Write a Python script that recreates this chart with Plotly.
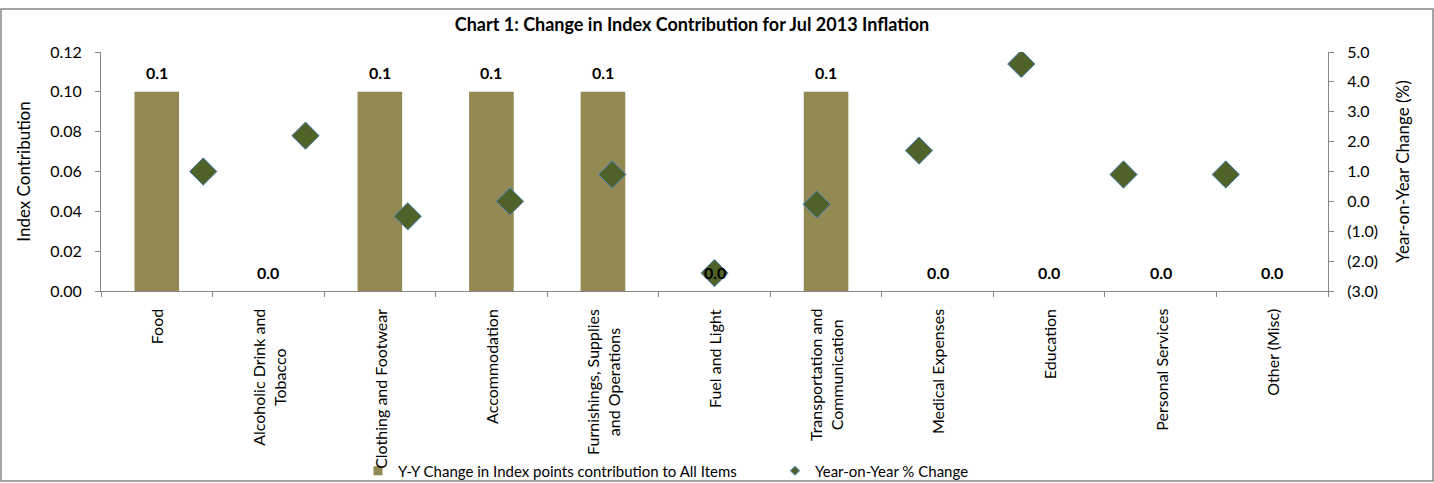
import plotly.graph_objects as go

categories = ["Food", "Alcoholic Drink and Tobacco", "Clothing and Footwear", "Accommodation",
              "Furnishings, Supplies and Operations", "Fuel and Light", "Transportation and Communication",
              "Medical Expenses", "Education", "Personal Services", "Other (Misc)"]
category_labels = ["Food", "Alcoholic Drink and<br>Tobacco", "Clothing and Footwear", "Accommodation",
                   "Furnishings, Supplies<br>and Operations", "Fuel and Light", "Transportation and<br>Communication",
                   "Medical Expenses", "Education", "Personal Services", "Other (Misc)"]
index_contribution = [0.1, 0.0, 0.1, 0.1, 0.1, 0.0, 0.1, 0.0, 0.0, 0.0, 0.0]
yoy_change = [1.0, 2.2, -0.5, 0.0, 0.9, -2.4, -0.1, 1.7, 4.6, 0.9, 0.9]
scatter_positions = [1, 2, 3, 4, 5, 6, 7, 8, 9, 10, 11]
left_ticks = [0.00, 0.02, 0.04, 0.06, 0.08, 0.10, 0.12]
right_tick_vals = [-3, -2, -1, 0, 1, 2, 3, 4, 5]
right_tick_text = ["(3.0)", "(2.0)", "(1.0)", "0.0", "1.0", "2.0", "3.0", "4.0", "5.0"]
bar_name = "Y-Y Change in Index points contribution to All Items"
scatter_name = "Year-on-Year % Change"

FONT = "Lato"
AX = "#868686"
BAR_COLOR = "#938953"
DIAMOND_COLOR = "#4F6228"
DIAMOND_EDGE = "#4F81BD"

fig = go.Figure()
fig.add_trace(go.Bar(
    x=categories, y=index_contribution, width=0.4,
    marker=dict(color=BAR_COLOR, line=dict(width=0)),
    name=bar_name, showlegend=False,
    xaxis="x", yaxis="y",
))
fig.add_trace(go.Scatter(
    x=scatter_positions, y=yoy_change, mode="markers",
    marker=dict(symbol="diamond", size=21, color=DIAMOND_COLOR, line=dict(color=DIAMOND_EDGE, width=1)),
    name=scatter_name, showlegend=False,
    xaxis="x2", yaxis="y2",
))
# legend-only entries (small symbols as in the original legend)
fig.add_trace(go.Scatter(x=[None], y=[None], mode="markers", name=bar_name,
                         marker=dict(symbol="square", size=9, color=BAR_COLOR), xaxis="x2", yaxis="y2"))
fig.add_trace(go.Scatter(x=[None], y=[None], mode="markers", name=scatter_name,
                         marker=dict(symbol="diamond", size=7, color=DIAMOND_COLOR,
                                     line=dict(color=DIAMOND_EDGE, width=1)), xaxis="x2", yaxis="y2"))

annotations = []
for c, v in zip(categories, index_contribution):
    annotations.append(dict(x=c, y=v, xref="x", yref="y", text="<b>%.1f</b>" % v, showarrow=False,
                            yanchor="middle", yshift=19, font=dict(family=FONT, size=16, color="black")))
for c, lab in zip(categories, category_labels):
    annotations.append(dict(x=c, y=0, xref="x", yref="paper", text=lab, showarrow=False,
                            textangle=-90, xanchor="center", yanchor="top", yshift=-16, align="center",
                            font=dict(family=FONT, size=16, color="black")))

fig.update_layout(
    width=1434, height=483,
    margin=dict(l=101, r=106, t=52, b=192, autoexpand=False),
    paper_bgcolor="white", plot_bgcolor="white",
    font=dict(family=FONT, size=16, color="black"),
    title=dict(text="<b>Chart 1: Change in Index Contribution for Jul 2013 Inflation</b>",
               x=692 / 1434, xref="container", xanchor="center", y=1 - 25 / 483, yref="container", yanchor="middle",
               font=dict(family=FONT, size=18, color="black")),
    xaxis=dict(type="category", showticklabels=False, showgrid=False, showline=True, linecolor=AX, linewidth=1,
               ticks="outside", tickson="boundaries", ticklen=5, tickcolor=AX, zeroline=False),
    xaxis2=dict(overlaying="x", range=[0, 12], visible=False),
    yaxis=dict(range=[0, 0.12], tickvals=left_ticks, tickformat=".2f", showgrid=False, zeroline=False,
               showline=True, linecolor=AX, ticks="outside", ticklen=5, tickcolor=AX, ticklabelstandoff=10,
               title=dict(text="Index Contribution", font=dict(family=FONT, size=17), standoff=15),
               tickfont=dict(family=FONT, size=16)),
    yaxis2=dict(overlaying="y", side="right", range=[-3, 5], tickvals=right_tick_vals, ticktext=right_tick_text,
                showgrid=False, zeroline=False, showline=True, linecolor=AX, ticks="outside", ticklen=5,
                tickcolor=AX, ticklabelstandoff=10,
                title=dict(text="Year-on-Year Change (%)", font=dict(family=FONT, size=17), standoff=20),
                tickfont=dict(family=FONT, size=16)),
    legend=dict(orientation="h", x=(358 - 101) / 1227, xanchor="left", y=(291 - 471) / 239, yanchor="middle",
                font=dict(family=FONT, size=15), bgcolor="rgba(0,0,0,0)", entrywidth=372),
    annotations=annotations,
    shapes=[dict(type="rect", xref="paper", yref="paper",
                 x0=(1 - 101) / 1227, x1=(1433 - 101) / 1227, y0=(291 - 481) / 239, y1=(291 - 9) / 239,
                 line=dict(color=AX, width=1.5), fillcolor="rgba(0,0,0,0)", layer="below")],
    showlegend=True,
)

fig.write_html("out.html", config={"displayModeBar": False},
               post_script="document.body.style.margin='0';")
